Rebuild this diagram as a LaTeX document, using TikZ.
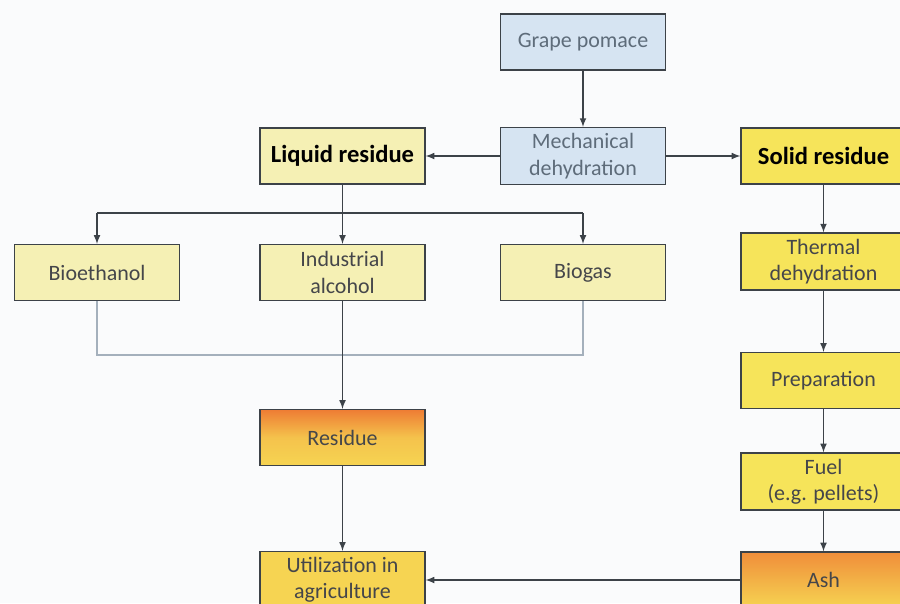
\documentclass[tikz,border=0pt]{standalone}
\usepackage{fontspec}
\setmainfont{Carlito}
\usepackage{xcolor}
\usepackage{tikz}
\usetikzlibrary{arrows,calc}

\definecolor{cPaper}{HTML}{FAFBFC}
\definecolor{cLine}{HTML}{3C4248}
\definecolor{cLineLight}{HTML}{A4B0BC}
\definecolor{cBlueFill}{HTML}{D6E4F2}
\definecolor{cBlueText}{HTML}{5E6C7A}
\definecolor{cPaleYellow}{HTML}{F5F0B4}
\definecolor{cYellow}{HTML}{F6E45A}
\definecolor{cOrange}{HTML}{EE7C34}
\definecolor{cGold}{HTML}{F6D452}
\definecolor{cDarkText}{HTML}{45464A}

\tikzstyle{tsText} = [
    text=cDarkText,
    font=\fontsize{12.5}{15}\selectfont
]
\tikzstyle{tsBox} = [
    rectangle,
    tsText,
    align=center,
    draw=cLine,
    line width=0.25mm,
    minimum width=3.3cm,
    minimum height=1.12cm]
\tikzstyle{tsBlue} = [
    tsBox,
    fill=cBlueFill,
    text=cBlueText]
\tikzstyle{tsPale} = [
    tsBox,
    fill=cPaleYellow]
\tikzstyle{tsSolid} = [
    tsBox,
    fill=cYellow]
\tikzstyle{tsHot} = [
    tsBox,
    top color=cOrange,
    bottom color=cGold,
    middle color=cGold!80!cOrange]
\tikzstyle{tsHead} = [
    text=black,
    font=\bfseries\fontsize{14}{16}\selectfont]
\tikzstyle{tsArrow} = [
    -latex,
    draw=cLine,
    line width=0.25mm]

\begin{document}
\begin{tikzpicture}[x=0.02cm, y=-0.02cm]

        \useasboundingbox (0,0) rectangle (900,603);
        \clip (0,0) rectangle (900,603);
        \fill[cPaper] (0,0) rectangle (900,603);

        % top
        \node[tsBlue] (pomace) at (583,42) {Grape pomace};
        \node[tsBlue] (mech) at (583,156) {Mechanical\\dehydration};
        \node[tsPale, tsHead] (liquid) at (342.5,156) {Liquid residue};
        \node[tsSolid, tsHead] (solid) at (823.5,156) {Solid residue};

        % liquid side
        \node[tsPale] (bioeth) at (97,272.5) {Bioethanol};
        \node[tsPale] (alcohol) at (342.5,272.5) {Industrial\\alcohol};
        \node[tsPale] (biogas) at (583,272.5) {Biogas};
        \node[tsHot] (residue) at (342.5,437.5) {Residue};
        \node[tsBox, fill=cGold] (util) at (342.5,580) {Utilization in\\agriculture};

        % solid side
        \node[tsSolid] (thermal) at (823.5,261.5) {Thermal\\dehydration};
        \node[tsSolid] (prep) at (823.5,380.5) {Preparation};
        \node[tsSolid] (fuel) at (823.5,481.5) {Fuel\\(e.g. pellets)};
        \node[tsHot, top color=cOrange!80!cGold] (ash) at (823.5,580) {Ash};

        \coordinate (split) at (342.5,213);
        \coordinate (join) at (342.5,355);

        \draw[tsArrow] (pomace) -- (mech);
        \draw[tsArrow] (mech) -- (liquid);
        \draw[tsArrow] (mech) -- (solid);

        \draw[cLine, line width=0.25mm] (liquid.south) -- (split);
        \draw[cLine, line width=0.25mm] (bioeth.north |- split) -- (biogas.north |- split);
        \draw[tsArrow] (bioeth.north |- split) -- (bioeth.north);
        \draw[tsArrow] (split) -- (alcohol.north);
        \draw[tsArrow] (biogas.north |- split) -- (biogas.north);

        \draw[cLineLight, line width=0.25mm] (bioeth.south) |- (join) -| (biogas.south);
        \draw[tsArrow] (alcohol) -- (residue);
        \draw[tsArrow] (residue) -- (util);

        \draw[tsArrow] (solid) -- (thermal);
        \draw[tsArrow] (thermal) -- (prep);
        \draw[tsArrow] (prep) -- (fuel);
        \draw[tsArrow] (fuel) -- (ash);
        \draw[tsArrow] (ash) -- (util);

\end{tikzpicture}
\end{document}
